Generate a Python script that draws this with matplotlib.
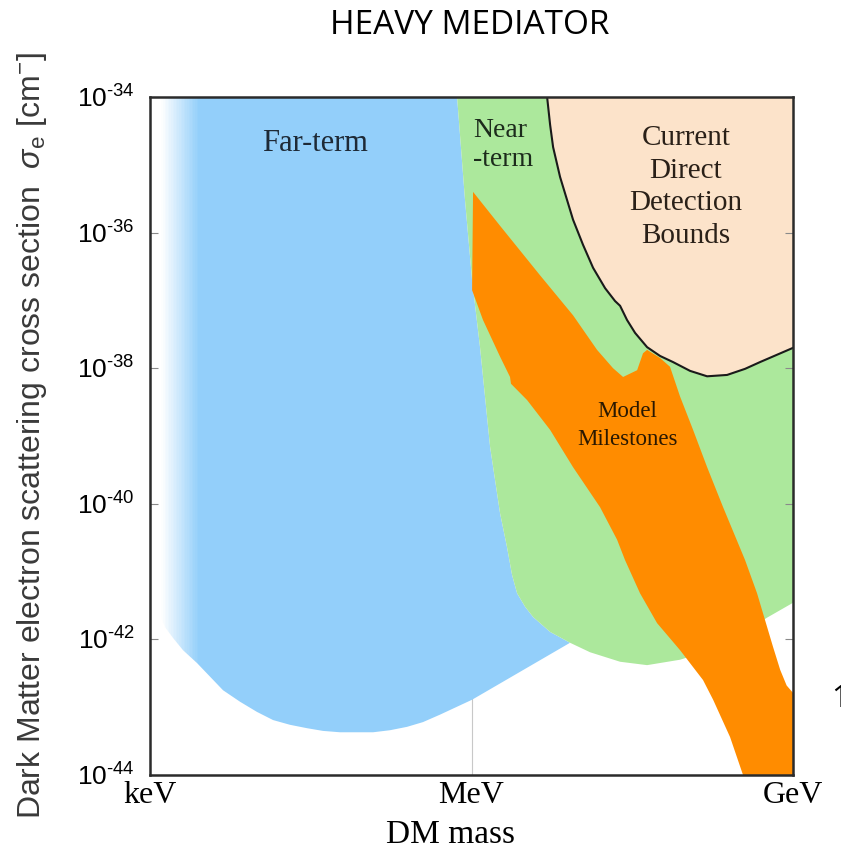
import numpy as np
import matplotlib.pyplot as plt

# math text in a Helvetica-like face, to match the axis labels
plt.rcParams['mathtext.fontset'] = 'custom'
plt.rcParams['mathtext.rm'] = 'Liberation Sans'
plt.rcParams['mathtext.it'] = 'Liberation Sans:italic'
plt.rcParams['mathtext.bf'] = 'Liberation Sans:bold'

# Region outlines (log10 of DM mass in MeV, log10 of sigma_e in cm^2)
# edge shared by the far-term and near-term regions, top to bottom
edge_logm = [-0.135, -0.061, 0.005, 0.079, 0.173, 0.266, 0.331, 0.378, 0.425, 0.500, 0.574, 0.733, 0.919]
edge_logs = [-34.00, -35.52, -36.70, -37.69, -39.16, -40.14, -40.64, -41.05, -41.32, -41.52, -41.67, -41.89, -42.05]

# far-term lower edge, right to left
far_bottom_logm = [0.005, -0.294, -0.453, -0.602, -0.761, -0.919, -1.068, -1.227, -1.386, -1.535, -1.694,
                   -1.852, -2.002, -2.160, -2.319, -2.440, -2.561, -2.692, -2.785, -2.860, -2.907, -3.0]
far_bottom_logs = [-42.89, -43.11, -43.22, -43.29, -43.34, -43.37, -43.37, -43.37, -43.35, -43.31, -43.26,
                   -43.19, -43.07, -42.92, -42.75, -42.55, -42.35, -42.16, -41.98, -41.82, -41.64, -41.42]

# near-term lower edge, left to right
near_bottom_logm = [1.106, 1.386, 1.638, 1.946, 2.226, 2.505, 2.757, 3.0]
near_bottom_logs = [-42.19, -42.33, -42.38, -42.30, -42.16, -41.94, -41.68, -41.46]

# model milestones band: left edge (top to bottom), right edge (bottom to top)
mile_left_logm = [0.014, 0.005, 0.107, 0.266, 0.359, 0.368, 0.518, 0.733, 0.947, 1.199, 1.358, 1.432,
                  1.572, 1.731, 1.946, 2.160, 2.254, 2.412, 2.533]
mile_left_logs = [-35.40, -36.85, -37.29, -37.83, -38.13, -38.23, -38.47, -38.91, -39.46, -40.05, -40.53, -40.83,
                  -41.32, -41.76, -42.16, -42.60, -42.89, -43.44, -44.00]
mile_right_logm = [3.0, 3.0, 2.94, 2.880, 2.813, 2.664, 2.552, 2.347, 2.198, 2.067, 1.946, 1.852, 1.759, 1.638,
                   1.600, 1.545, 1.414, 1.320, 1.171, 0.947, 0.639, 0.266]
mile_right_logs = [-44.00, -42.79, -42.68, -42.45, -42.11, -41.32, -40.83, -40.05, -39.46, -38.91, -38.42, -37.98, -37.85, -37.73,
                   -37.78, -38.03, -38.13, -38.00, -37.73, -37.22, -36.63, -35.90]

# current direct detection bound
bound_logm = [0.705, 0.733, 0.761, 0.826, 0.947, 1.040, 1.134, 1.246, 1.339, 1.386, 1.451, 1.526, 1.638,
              1.759, 1.880, 2.039, 2.198, 2.384, 2.552, 2.692, 3.0]
bound_logs = [-34.00, -34.41, -34.74, -35.18, -35.81, -36.18, -36.52, -36.82, -37.01, -37.08, -37.29, -37.48, -37.69,
              -37.82, -37.91, -38.04, -38.12, -38.10, -38.01, -37.91, -37.70]

# axes ticks
x_ticks = [1e-3, 1.0, 1e3]
x_tick_labels = ['keV', 'MeV', 'GeV']
y_exps = [-44, -42, -40, -38, -36, -34]

blue = '#93CFFA'
green = '#ACE89C'
orange = '#FF8C00'
beige = '#FCE3CA'
serif = 'Liberation Serif'
sans = 'Liberation Sans'

fig = plt.figure(figsize=(8.41, 8.52), dpi=100)
ax = fig.add_axes([0.1784, 0.0904, 0.7646, 0.7958])
ax.set_xscale('log')
ax.set_yscale('log')
ax.set_xlim(1e-3, 1e3)
ax.set_ylim(1e-44, 1e-34)

# faint grid line at MeV, hidden under the regions
ax.axvline(1.0, color='#c8c8c8', lw=0.8, zorder=0.5)

# far-term
far_m = [-3.0] + edge_logm + far_bottom_logm
far_s = [-34.0] + edge_logs + far_bottom_logs
ax.fill(10.0 ** np.array(far_m), 10.0 ** np.array(far_s), color=blue, lw=0, zorder=1)

# fade the far-term region out towards keV
fade_edges = np.linspace(-3.0, -2.55, 31)
for i in range(len(fade_edges) - 1):
    a = 1.0 if fade_edges[i] < -2.9 else 1.0 - (fade_edges[i] + 2.9) / 0.35
    ax.axvspan(10 ** fade_edges[i], 10 ** fade_edges[i + 1], color='white', alpha=max(a, 0), lw=0, zorder=1.1)

# near-term
near_m = edge_logm + near_bottom_logm + [3.0]
near_s = edge_logs + near_bottom_logs + [-34.0]
ax.fill(10.0 ** np.array(near_m), 10.0 ** np.array(near_s), color=green, lw=0, zorder=1.2)

# model milestones
mile_m = mile_left_logm + mile_right_logm
mile_s = mile_left_logs + mile_right_logs
ax.fill(10.0 ** np.array(mile_m), 10.0 ** np.array(mile_s), color=orange, lw=0, zorder=1.3)

# current bounds
bx = 10.0 ** np.array(bound_logm)
by = 10.0 ** np.array(bound_logs)
ax.fill(np.append(bx, 1e3), np.append(by, 1e-34), color=beige, lw=0, zorder=1.4)
ax.plot(bx, by, color='#1a1a1a', lw=1.5, zorder=3)

# region labels
ax.text(10 ** -1.46, 10 ** -34.68, 'Far-term', fontsize=22, family=serif, color='#1e2a36',
        ha='center', va='center')
ax.text(10 ** 0.014, 10 ** -34.71, 'Near\n-term', fontsize=20, family=serif, color='#1c2b1c',
        ha='left', va='center', linespacing=1.2)
ax.text(10 ** 2.0, 10 ** -35.33, 'Current\nDirect\nDetection\nBounds', fontsize=21, family=serif,
        color='#2a2018', ha='center', va='center', linespacing=1.33)
ax.text(10 ** 1.451, 10 ** -38.85, 'Model\nMilestones', fontsize=16.5, family=serif,
        color='#2a1800', ha='center', va='center', linespacing=1.45)

# axes styling
ax.xaxis.set_minor_locator(plt.NullLocator())
ax.yaxis.set_minor_locator(plt.NullLocator())
ax.set_xticks(x_ticks)
ax.set_xticklabels(x_tick_labels, fontsize=23, family=serif)
ax.set_yticks([10.0 ** e for e in y_exps])
# short hyphen in the exponent, as in the original
ax.set_yticklabels(['$10^{\u2010%d}$' % abs(e) for e in y_exps], fontsize=19)
ax.tick_params(axis='y', direction='in', length=6, width=0.8, color='#8a8a8a', pad=11, right=True)
ax.tick_params(axis='x', length=0, pad=4)
for s in ax.spines.values():
    s.set_color('#2b2b2b')
    s.set_linewidth(1.8)
    s.set_zorder(4)

fig.text(450 / 841, 1 - 843 / 852, 'DM mass', fontsize=24, family=serif, ha='center', va='baseline')

fig.text(32 / 841, 1 - 436 / 852,
         r'Dark Matter electron scattering cross section  $\sigma_{\mathrm{e}}$ [cm$^{-}$]',
         rotation=90, fontsize=23, family=sans, color='#3a3a3a', ha='center', va='center')

fig.text(470 / 841, 1 - 25 / 852, 'HEAVY MEDIATOR', fontsize=24, family='Open Sans',
         ha='center', va='center')

# stray digit cut off at the right edge of the slide
fig.text(831 / 841, 1 - 699 / 852, '1', fontsize=22, family='Open Sans', ha='left', va='center')

fig.savefig('out.png', dpi=100)
